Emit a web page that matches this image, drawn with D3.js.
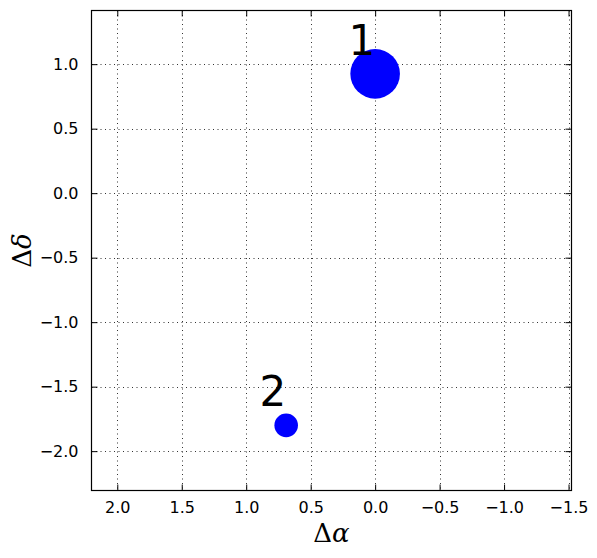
<!DOCTYPE html>
<meta charset="utf-8">
<script src="https://d3js.org/d3.v7.min.js"></script>
<style>
  body { margin: 0; background: #fff; }
  svg { font-family: "DejaVu Sans", sans-serif; }
</style>
<svg id="chart" width="597" height="558"></svg>
<script>
// source ids, offsets (arcsec) and relative flux
var ids = ["1", "2"];
var dAlpha = [0.0, 0.69];
var dDelta = [0.925, -1.80];
var flux = [1.0, 0.226];
var xTicks = [2.0, 1.5, 1.0, 0.5, 0.0, -0.5, -1.0, -1.5];
var yTicks = [1.0, 0.5, 0.0, -0.5, -1.0, -1.5, -2.0];

var svg = d3.select("#chart");
var mLeft = 91.5, mTop = 10.5, w = 480, h = 480;

// x axis is reversed (RA increases to the left)
var x = d3.scaleLinear().domain([2.2, -1.523]).range([mLeft, mLeft + w]);
var y = d3.scaleLinear().domain([1.416, -2.305]).range([mTop, mTop + h]);
var r = d3.scaleSqrt().domain([0, 1]).range([0, 24.8]);

var fmt = d3.format(".1f");

// grid
var grid = svg.append("g")
    .attr("stroke", "#333")
    .attr("stroke-width", 1)
    .attr("stroke-dasharray", "1,3.5");
grid.selectAll(".gx").data(xTicks).enter().append("line")
    .attr("x1", function(d){ return Math.round(x(d)) + 0.5; })
    .attr("x2", function(d){ return Math.round(x(d)) + 0.5; })
    .attr("y1", mTop).attr("y2", mTop + h);
grid.selectAll(".gy").data(yTicks).enter().append("line")
    .attr("y1", function(d){ return Math.round(y(d)) + 0.5; })
    .attr("y2", function(d){ return Math.round(y(d)) + 0.5; })
    .attr("x1", mLeft).attr("x2", mLeft + w);

// axes with inward ticks on all sides
function styleAxis(g) {
  g.attr("font-family", null).attr("font-size", null);
  g.select(".domain").remove();
  g.selectAll(".tick line").attr("stroke", "#000");
  g.selectAll("text").attr("fill", "#000")
    .style("font-family", "'DejaVu Sans', sans-serif")
    .style("font-size", "16px");
}
svg.append("g").attr("transform", "translate(0," + (mTop + h) + ")")
    .call(d3.axisBottom(x).tickValues(xTicks).tickFormat(fmt).tickSizeInner(-6).tickPadding(11))
    .call(styleAxis);
svg.append("g").attr("transform", "translate(0," + mTop + ")")
    .call(d3.axisTop(x).tickValues(xTicks).tickFormat("").tickSizeInner(-6))
    .call(styleAxis);
svg.append("g").attr("transform", "translate(" + mLeft + ",0)")
    .call(d3.axisLeft(y).tickValues(yTicks).tickFormat(fmt).tickSizeInner(-6).tickPadding(13))
    .call(styleAxis);
svg.append("g").attr("transform", "translate(" + (mLeft + w) + ",0)")
    .call(d3.axisRight(y).tickValues(yTicks).tickFormat("").tickSizeInner(-6))
    .call(styleAxis);

// frame
svg.append("rect")
    .attr("x", mLeft).attr("y", mTop).attr("width", w).attr("height", h)
    .attr("fill", "none").attr("stroke", "#000").attr("stroke-width", 1.2);

// sources
var pts = ids.map(function(id, i){ return {id: id, a: dAlpha[i], d: dDelta[i], f: flux[i]}; });
svg.selectAll(".src").data(pts).enter().append("circle")
    .attr("cx", function(d){ return x(d.a); })
    .attr("cy", function(d){ return y(d.d); })
    .attr("r", function(d){ return r(d.f); })
    .attr("fill", "#0000ff");
svg.selectAll(".lab").data(pts).enter().append("text")
    .attr("x", function(d){ return x(d.a); })
    .attr("y", function(d){ return y(d.d) - 19; })
    .attr("text-anchor", "end")
    .style("font-size", "42px")
    .attr("fill", "#000")
    .text(function(d){ return d.id; });

// axis labels
var xl = svg.append("text")
    .attr("x", mLeft + w / 2).attr("y", 542)
    .attr("text-anchor", "middle")
    .style("font-family", "'DejaVu Serif', serif")
    .style("font-size", "26px");
xl.append("tspan").text("Δ");
xl.append("tspan").style("font-style", "italic").text("α");

var yl = svg.append("text")
    .attr("transform", "translate(31," + (mTop + h / 2) + ") rotate(-90)")
    .attr("text-anchor", "middle")
    .style("font-family", "'DejaVu Serif', serif")
    .style("font-size", "26px");
yl.append("tspan").text("Δ");
yl.append("tspan").style("font-style", "italic").text("δ");
</script>
